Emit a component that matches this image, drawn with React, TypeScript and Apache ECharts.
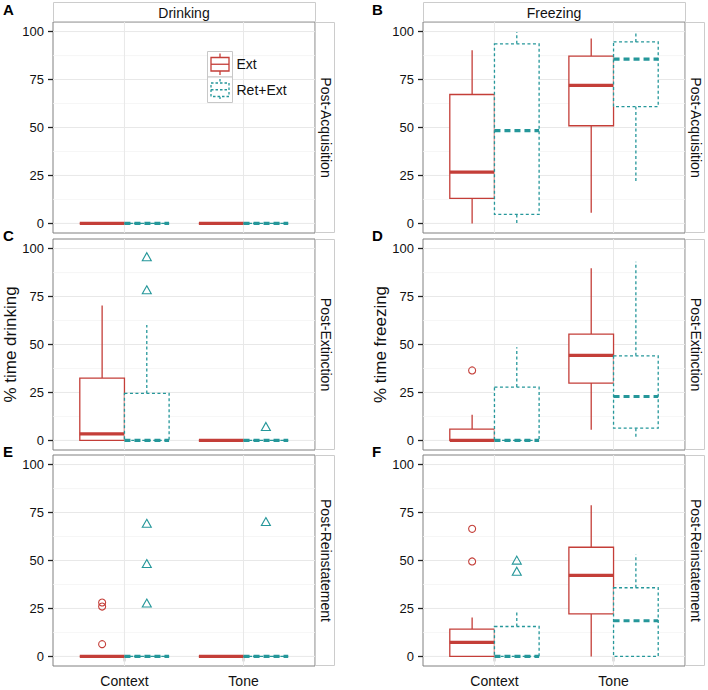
import React, { useEffect, useRef } from "react";
import * as echarts from "echarts";

// ---------- data ----------
const categories = ["Context", "Tone"];
const measures = ["Drinking", "Freezing"];
const phases = ["Post-Acquisition", "Post-Extinction", "Post-Reinstatement"];
const panelLetters = ["A", "B", "C", "D", "E", "F"];
const yTitles = ["% time drinking", "% time freezing"];
const groups = ["Ext", "Ret+Ext"];
const yTicks = [0, 25, 50, 75, 100];
const yMinor = [12.5, 37.5, 62.5, 87.5];

// box statistics per category (Context, Tone): [min, q1, median, q3, max]
const drinkAcqExt = [[0, 0, 0, 0, 0], [0, 0, 0, 0, 0]];
const drinkAcqRet = [[0, 0, 0, 0, 0], [0, 0, 0, 0, 0]];
const freezeAcqExt = [[0, 13, 26.7, 67.2, 90.3], [5.6, 50.9, 72, 87.2, 96.4]];
const freezeAcqRet = [[0, 4.7, 48.4, 93.6, 99.8], [21.2, 60.9, 85.6, 94.6, 99.3]];
const drinkExtExt = [[0, 0, 3.4, 32.5, 70.3], [0, 0, 0, 0, 0]];
const drinkExtRet = [[0, 0, 0, 24.5, 60.2], [0, 0, 0, 0, 0]];
const freezeExtExt = [[0, 0, 0, 5.9, 13.4], [5.6, 29.9, 44.3, 55.4, 89.8]];
const freezeExtRet = [[0, 0, 0, 27.8, 48.6], [1.2, 6.4, 22.9, 44.1, 93.2]];
const drinkReinExt = [[0, 0, 0, 0, 0], [0, 0, 0, 0, 0]];
const drinkReinRet = [[0, 0, 0, 0, 0], [0, 0, 0, 0, 0]];
const freezeReinExt = [[0, 0, 7.3, 14.2, 20.3], [0, 22.2, 42.2, 56.9, 78.8]];
const freezeReinRet = [[0, 0, 0, 15.6, 23.3], [0, 0, 18.6, 35.8, 53.1]];

// outliers: [category index, value]
const drinkExtRetOut = [[0, 95.8], [0, 78.5], [1, 7.3]];
const freezeExtExtOut = [[0, 36.5]];
const drinkReinExtOut = [[0, 28.1], [0, 26.0], [0, 6.4]];
const drinkReinRetOut = [[0, 69.4], [0, 48.4], [0, 27.8], [1, 70.3]];
const freezeReinExtOut = [[0, 66.5], [0, 49.5]];
const freezeReinRetOut = [[0, 50.2], [0, 44.4]];

// ---------- layout & style ----------
const FONT = "'Liberation Sans', Arial, Helvetica, sans-serif";
const RED = "#c43e38";
const TEAL = "#25979a";
const COL_LEFT = [53, 423];
const ROW_TOP = [22, 239, 455];
const PW = 262;
const PH = 211;
const X_MIN = 0.4;
const X_MAX = 2.6;
const Y_MIN = -5;
const Y_MAX = 105;
const DODGE = 0.1875;

const panels = [
  { ext: drinkAcqExt, ret: drinkAcqRet, extOut: [] as number[][], retOut: [] as number[][] },
  { ext: freezeAcqExt, ret: freezeAcqRet, extOut: [], retOut: [] },
  { ext: drinkExtExt, ret: drinkExtRet, extOut: [], retOut: drinkExtRetOut },
  { ext: freezeExtExt, ret: freezeExtRet, extOut: freezeExtExtOut, retOut: [] },
  { ext: drinkReinExt, ret: drinkReinRet, extOut: drinkReinExtOut, retOut: drinkReinRetOut },
  { ext: freezeReinExt, ret: freezeReinRet, extOut: freezeReinExtOut, retOut: freezeReinRetOut },
];

const gridData = [
  ...yMinor.map((v) => [v, 1]),
  ...yTicks.map((v) => [v, 0]),
  ...categories.map((_, i) => [i + 1, 2]),
];

function gridRenderer(_params: any, api: any) {
  const v = api.value(0);
  const k = api.value(1);
  if (k === 2) {
    const a = api.coord([v, Y_MIN]);
    const b = api.coord([v, Y_MAX]);
    return { type: "line", shape: { x1: a[0], y1: a[1], x2: b[0], y2: b[1] }, style: { stroke: "#e8e8e8", lineWidth: 1 } };
  }
  const a = api.coord([X_MIN, v]);
  const b = api.coord([X_MAX, v]);
  return {
    type: "line",
    shape: { x1: a[0], y1: a[1], x2: b[0], y2: b[1] },
    style: { stroke: k === 0 ? "#e8e8e8" : "#f4f4f4", lineWidth: k === 0 ? 1 : 0.8 },
  };
}

function boxRenderer(offset: number, color: string, dashed: boolean) {
  return (_params: any, api: any) => {
    const x = api.value(0) + offset;
    const mn = api.value(1);
    const q1 = api.value(2);
    const md = api.value(3);
    const q3 = api.value(4);
    const mx = api.value(5);
    const pL = api.coord([x - DODGE, q3]);
    const pR = api.coord([x + DODGE, q1]);
    const top = api.coord([x, mx]);
    const bot = api.coord([x, mn]);
    const mL = api.coord([x - DODGE, md]);
    const mR = api.coord([x + DODGE, md]);
    const dash = dashed ? [3, 2.5] : undefined;
    const ls: any = { stroke: color, lineWidth: 1.3, fill: null };
    if (dash) ls.lineDash = dash;
    const children: any[] = [];
    if (mx > q3) children.push({ type: "line", shape: { x1: top[0], y1: pL[1], x2: top[0], y2: top[1] }, style: ls });
    if (mn < q1) children.push({ type: "line", shape: { x1: bot[0], y1: pR[1], x2: bot[0], y2: bot[1] }, style: ls });
    const rs: any = { fill: "#fff", stroke: color, lineWidth: 1.3 };
    if (dash) rs.lineDash = dash;
    children.push({ type: "rect", shape: { x: pL[0], y: pL[1], width: pR[0] - pL[0], height: pR[1] - pL[1] }, style: rs });
    const ms: any = { stroke: color, lineWidth: 3.2 };
    if (dashed) ms.lineDash = [6, 4];
    children.push({ type: "line", shape: { x1: mL[0], y1: mL[1], x2: mR[0], y2: mR[1] }, style: ms });
    return { type: "group", children };
  };
}

function buildOption() {
  const grid: any[] = [];
  const xAxis: any[] = [];
  const yAxis: any[] = [];
  const series: any[] = [];
  const graphic: any[] = [];

  panels.forEach((p, g) => {
    const r = Math.floor(g / 2);
    const c = g % 2;
    const bottom = r === 2;
    grid.push({
      left: COL_LEFT[c], top: ROW_TOP[r], width: PW, height: PH,
      show: true, backgroundColor: "#fff", borderColor: "#808080", borderWidth: 1,
    });
    xAxis.push({
      type: "value", gridIndex: g, min: X_MIN, max: X_MAX,
      axisLine: { show: false }, splitLine: { show: false },
      axisTick: { show: bottom, customValues: [1, 2], length: 5, lineStyle: { color: "#222", width: 1.3 } },
      axisLabel: {
        show: bottom, customValues: [1, 2], margin: 8, fontSize: 14, color: "#111", fontFamily: FONT,
        formatter: (v: number) => categories[Math.round(v) - 1] ?? "",
      },
    });
    yAxis.push({
      type: "value", gridIndex: g, min: Y_MIN, max: Y_MAX,
      axisLine: { show: false }, splitLine: { show: false },
      axisTick: { show: true, customValues: yTicks, length: 5, lineStyle: { color: "#222", width: 1.3 } },
      axisLabel: { customValues: yTicks, margin: 9, fontSize: 13, color: "#111", fontFamily: FONT },
    });
    series.push({
      type: "custom", name: "grid" + g, xAxisIndex: g, yAxisIndex: g, silent: true, z: 1,
      renderItem: gridRenderer, data: gridData,
    });
    const boxSets = [
      { name: groups[0], stats: p.ext, off: -DODGE, color: RED, dashed: false },
      { name: groups[1], stats: p.ret, off: DODGE, color: TEAL, dashed: true },
    ];
    boxSets.forEach((b) => {
      series.push({
        type: "custom", name: b.name, xAxisIndex: g, yAxisIndex: g, z: 3, silent: true,
        renderItem: boxRenderer(b.off, b.color, b.dashed),
        encode: { x: 0, y: [1, 2, 3, 4, 5] },
        data: b.stats.map((s, i) => [i + 1, ...s]),
      });
    });
    if (p.extOut.length) {
      series.push({
        type: "scatter", name: groups[0], xAxisIndex: g, yAxisIndex: g, z: 4, silent: true,
        symbol: "circle", symbolSize: 7,
        itemStyle: { color: "rgba(0,0,0,0)", borderColor: RED, borderWidth: 1.1, opacity: 1 },
        data: p.extOut.map(([ci, v]) => [ci + 1 - DODGE, v]),
      });
    }
    if (p.retOut.length) {
      series.push({
        type: "scatter", name: groups[1], xAxisIndex: g, yAxisIndex: g, z: 4, silent: true,
        symbol: "triangle", symbolSize: [9, 8],
        itemStyle: { color: "rgba(0,0,0,0)", borderColor: TEAL, borderWidth: 1.1, opacity: 1 },
        data: p.retOut.map(([ci, v]) => [ci + 1 + DODGE, v]),
      });
    }

    // panel letter
    graphic.push({
      type: "text", z: 100, x: c === 0 ? 3 : 372, y: ROW_TOP[r] - (r === 0 ? 20 : 11),
      style: { text: panelLetters[g], fontSize: 15, fontWeight: "bold", fontFamily: FONT, fill: "#000", verticalAlign: "top" },
    });
    // right strip
    graphic.push({
      type: "rect", z: 90, shape: { x: COL_LEFT[c] + PW + 0.5, y: ROW_TOP[r] + 0.5, width: 19, height: PH - 1 },
      style: { fill: "#fff", stroke: "#cccccc", lineWidth: 1 },
    });
    graphic.push({
      type: "text", z: 100, x: COL_LEFT[c] + PW + 10.5, y: ROW_TOP[r] + PH / 2, rotation: -Math.PI / 2,
      style: { text: phases[r], fontSize: 14, fontFamily: FONT, fill: "#111", align: "center", verticalAlign: "middle" },
    });
  });

  // top strips
  measures.forEach((m, c) => {
    graphic.push({
      type: "rect", z: 90, shape: { x: COL_LEFT[c] + 0.5, y: 2.5, width: PW, height: 19 },
      style: { fill: "#fff", stroke: "#cccccc", lineWidth: 1 },
    });
    graphic.push({
      type: "text", z: 100, x: COL_LEFT[c] + PW / 2, y: 12.5,
      style: { text: m, fontSize: 14, fontFamily: FONT, fill: "#111", align: "center", verticalAlign: "middle" },
    });
  });

  // y titles
  yTitles.forEach((t, c) => {
    graphic.push({
      type: "text", z: 100, x: c === 0 ? 10.5 : 380, y: ROW_TOP[1] + PH / 2, rotation: Math.PI / 2,
      style: { text: t, fontSize: 17, fontFamily: FONT, fill: "#111", align: "center", verticalAlign: "middle" },
    });
  });

  // legend (inside panel A)
  const LX = 207.5;
  const LY = 51.5;
  const KW = 25;
  const KH = 25.5;
  [RED, TEAL].forEach((col, i) => {
    const ky = LY + i * KH;
    const dash = i === 1 ? [2.5, 2] : undefined;
    const st: any = { stroke: col, lineWidth: 1.3, fill: null };
    if (dash) st.lineDash = dash;
    const bs: any = { stroke: col, lineWidth: 1.3, fill: "#fff" };
    if (dash) bs.lineDash = dash;
    graphic.push({ type: "rect", z: 100, shape: { x: LX, y: ky, width: KW, height: KH }, style: { fill: "#fff", stroke: "#c8c8c8", lineWidth: 1 } });
    graphic.push({ type: "line", z: 101, shape: { x1: LX + KW / 2, y1: ky + 2, x2: LX + KW / 2, y2: ky + 6 }, style: st });
    graphic.push({ type: "line", z: 101, shape: { x1: LX + KW / 2, y1: ky + KH - 6, x2: LX + KW / 2, y2: ky + KH - 2 }, style: st });
    graphic.push({ type: "rect", z: 101, shape: { x: LX + 3.5, y: ky + 6, width: KW - 7, height: KH - 12 }, style: bs });
    graphic.push({ type: "line", z: 101, shape: { x1: LX + 3.5, y1: ky + KH / 2, x2: LX + KW - 3.5, y2: ky + KH / 2 }, style: st });
    graphic.push({
      type: "text", z: 101, x: LX + KW + 4, y: ky + KH / 2,
      style: { text: groups[i], fontSize: 14, fontFamily: FONT, fill: "#111", align: "left", verticalAlign: "middle" },
    });
  });

  return {
    animation: false,
    backgroundColor: "#fff",
    textStyle: { fontFamily: FONT },
    grid, xAxis, yAxis, series, graphic,
  };
}

export default function App() {
  const ref = useRef<HTMLDivElement>(null);
  useEffect(() => {
    document.body.style.margin = "0";
    if (!ref.current) return;
    const chart = echarts.init(ref.current, undefined, { renderer: "svg" });
    chart.setOption(buildOption() as any);
    return () => chart.dispose();
  }, []);
  return <div ref={ref} style={{ width: 708, height: 690, position: "absolute", left: 0, top: 0 }} />;
}
